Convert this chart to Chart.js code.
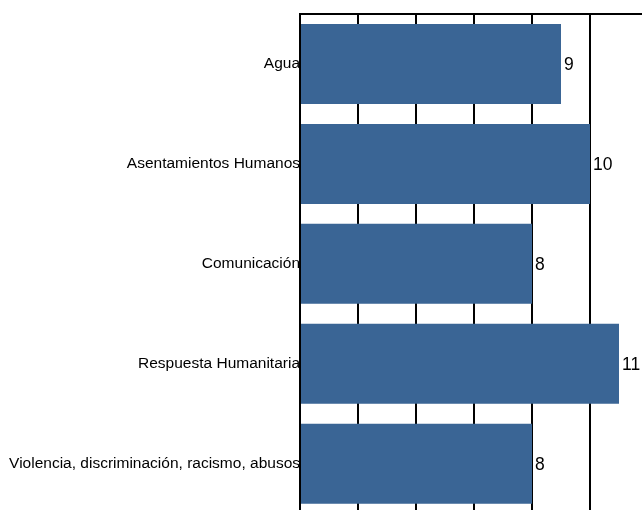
<!DOCTYPE html>
<html>
<head>
<meta charset="utf-8">
<script src="https://cdn.jsdelivr.net/npm/chart.js@4/dist/chart.umd.min.js"></script>
<style>
    html, body { margin: 0; padding: 0; background: #fff; overflow: hidden; }
    #wrap { position: relative; width: 642px; height: 510px; overflow: hidden; }
    #box { position: absolute; left: 0; top: 0; width: 648px; height: 523px; }
</style>
</head>
<body>
<div id="wrap"><div id="box"><canvas id="temasChart"></canvas></div></div>
<script>
// datos
const categorias = [
    'Agua',
    'Asentamientos Humanos',
    'Comunicación',
    'Respuesta Humanitaria',
    'Violencia, discriminación, racismo, abusos'
];
const valores = [9, 10, 8, 11, 8];
const ejeMax = 12;
const ejePaso = 2;

// etiquetas de valor al final de cada barra
const etiquetasValor = {
    id: 'etiquetasValor',
    afterDatasetsDraw(chart) {
        const ctx = chart.ctx;
        const meta = chart.getDatasetMeta(0);
        ctx.save();
        ctx.fillStyle = '#000';
        ctx.font = '17.5px "Liberation Sans", Arial, sans-serif';
        ctx.textAlign = 'left';
        ctx.textBaseline = 'middle';
        meta.data.forEach((bar, i) => {
            ctx.fillText(String(valores[i]), bar.x + 3, bar.y + 1);
        });
        ctx.restore();
    }
};

const ctx = document.getElementById('temasChart');
new Chart(ctx, {
    type: 'bar',
    data: {
        labels: categorias,
        datasets: [{
            data: valores,
            backgroundColor: '#3A6595',
            borderWidth: 0,
            barPercentage: 0.8,
            categoryPercentage: 1.0
        }]
    },
    options: {
        indexAxis: 'y',
        responsive: true,
        maintainAspectRatio: false,
        animation: false,
        layout: { padding: { top: 14, right: 0, bottom: 0, left: 0 } },
        plugins: {
            legend: { display: false },
            tooltip: { enabled: false }
        },
        scales: {
            x: {
                position: 'top',
                min: 0,
                max: ejeMax,
                ticks: { display: false, stepSize: ejePaso },
                grid: { color: '#000', lineWidth: 2, drawTicks: false },
                border: { display: true, color: '#000', width: 2 },
                afterFit(scale) { scale.height = 0; }
            },
            y: {
                grid: { display: false, drawTicks: false },
                border: { display: true, color: '#000', width: 2 },
                ticks: {
                    color: '#000',
                    padding: 0,
                    font: { family: '"Liberation Sans", Arial, sans-serif', size: 15.5 }
                },
                afterFit(scale) { scale.width = 300; }
            }
        }
    },
    plugins: [etiquetasValor]
});
</script>
</body>
</html>
